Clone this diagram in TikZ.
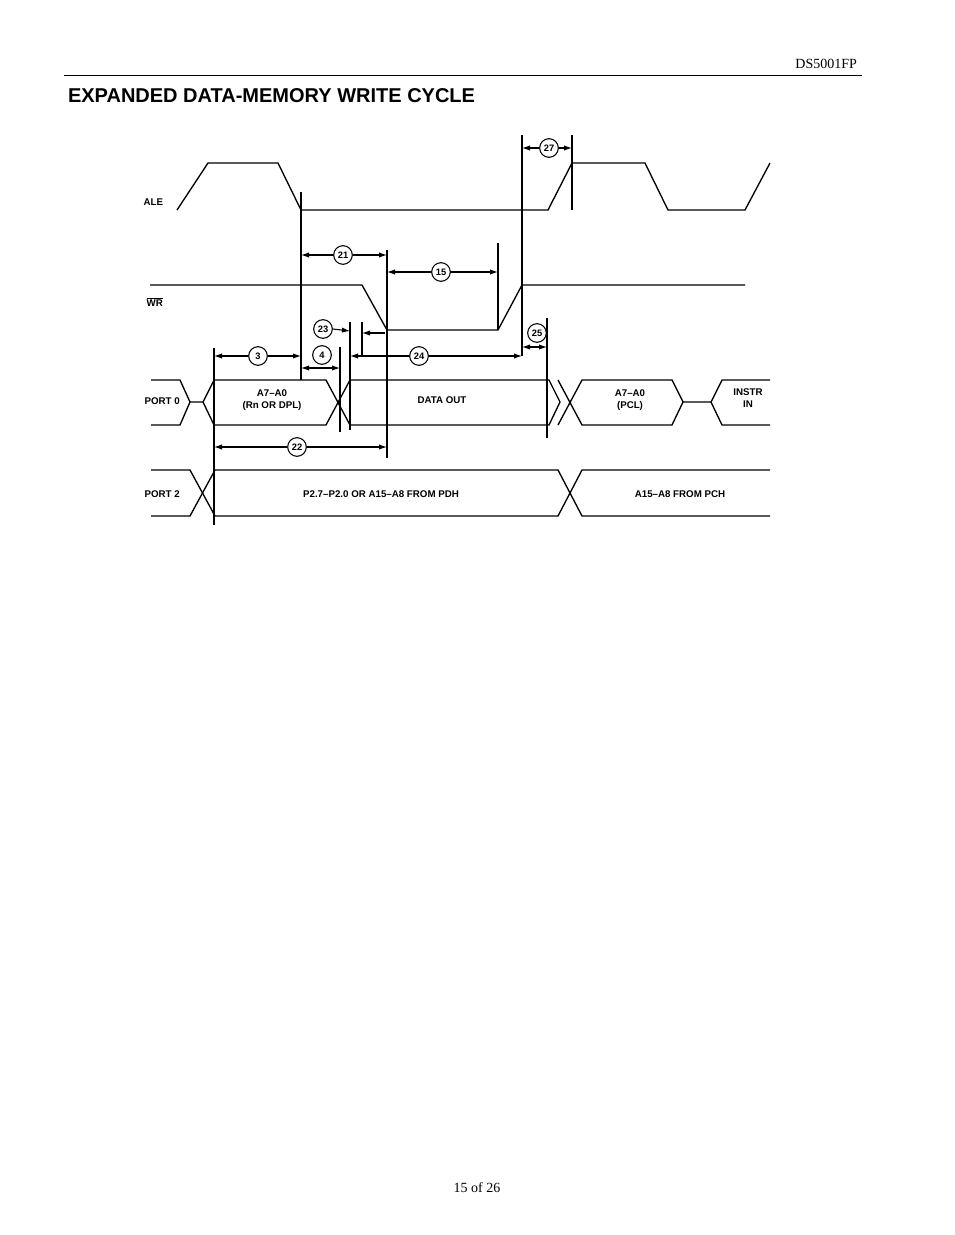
\documentclass[tikz,border=0pt]{standalone}
\usepackage{fontspec}
\setmainfont{Liberation Serif}
\newfontfamily\lab{Liberation Sans}
\usetikzlibrary{arrows.meta}
\begin{document}
\begin{tikzpicture}[x=0.75pt,y=-0.75pt,line width=0.9pt,
  sig/.style={line width=1pt},
  tick/.style={line width=0.9pt},
  num/.style={circle,draw,line width=0.8pt,inner sep=0pt,minimum size=14pt,fill=white,font=\lab\bfseries\fontsize{7}{8}\selectfont},
  txt/.style={font=\lab\bfseries\fontsize{7.3}{8.5}\selectfont,align=center,inner sep=0pt},
  dim/.style={line width=0.8pt,-{Latex[length=6pt,width=4pt]}}]
\useasboundingbox (0,0) rectangle (954,1235);
% header
\node[anchor=east,font=\fontsize{10.5}{12}\selectfont] (hdr) at (862,64) {DS5001FP};
\draw[line width=0.6pt] (64,75) -- (862,75);
\node[anchor=west,font=\lab\bfseries\fontsize{15}{18}\selectfont] (title) at (63,96) {EXPANDED DATA-MEMORY WRITE CYCLE};
\node[font=\fontsize{10.5}{12}\selectfont] (foot) at (477,1188) {15 of 26};
% labels
\node[txt,anchor=west] (ale) at (143,202) {ALE};
\node[txt,anchor=west] (wr) at (146,302) {$\overline{\mbox{WR}}$};
\node[txt,anchor=west] (p0) at (144,401) {PORT 0};
\node[txt,anchor=west] (p2) at (144,494) {PORT 2};
% ALE
\draw[sig] (177,210) -- (208,163) -- (278,163) -- (301,210) -- (548,210) -- (572,163) -- (645,163) -- (668,210) -- (745,210) -- (770,163);
% WR
\draw[sig] (150,285) -- (362,285) -- (387,330) -- (498,330) -- (522,285) -- (745,285);
% PORT 0
\draw[sig] (151,380) -- (180,380) -- (190,402) -- (180,425) -- (151,425);
\draw[sig] (190,402) -- (203,402) -- (214,380) -- (326,380) -- (350,425) -- (549,425) -- (560,402) -- (549,380) -- (350,380) -- (326,425) -- (214,425) -- (203,402);
\draw[sig] (558,380) -- (582,425) -- (672,425) -- (683,402) -- (672,380) -- (582,380) -- (558,425);
\draw[sig] (683,402) -- (711,402) -- (722,380) -- (770,380);
\draw[sig] (711,402) -- (722,425) -- (770,425);
\node[txt] (a70) at (272,400) {A7–A0\\(Rn OR DPL)};
\node[txt] (dout) at (442,400) {DATA OUT};
\node[txt] (pcl) at (630,400) {A7–A0\\(PCL)};
\node[txt] (instr) at (748,398) {INSTR\\IN};
% PORT 2
\draw[sig] (151,470) -- (190,470) -- (215,516) -- (558,516) -- (582,470) -- (770,470);
\draw[sig] (151,516) -- (190,516) -- (215,470) -- (558,470) -- (582,516) -- (770,516);
\node[txt] (pdh) at (381,494) {P2.7–P2.0 OR A15–A8 FROM PDH};
\node[txt] (pch) at (680,494) {A15–A8 FROM PCH};
% vertical timing lines
\draw[tick] (214,348) -- (214,525);
\draw[tick] (301,192) -- (301,380);
\draw[tick] (340,347) -- (340,432);
\draw[tick] (350,322) -- (350,430);
\draw[tick] (362,322) -- (362,355);
\draw[tick] (387,250) -- (387,458);
\draw[tick] (498,243) -- (498,330);
\draw[tick] (522,135) -- (522,356);
\draw[tick] (547,318) -- (547,438);
\draw[tick] (572,135) -- (572,210);
% dimension markers
\node[num] (n27) at (549,148) {27};
\draw[dim] (n27) -- (522,148);
\draw[dim] (n27) -- (572,148);
\node[num] (n21) at (343,255) {21};
\draw[dim] (n21) -- (301,255);
\draw[dim] (n21) -- (387,255);
\node[num] (n15) at (441,272) {15};
\draw[dim] (n15) -- (387,272);
\draw[dim] (n15) -- (498,272);
\node[num] (n23) at (323,329) {23};
\draw[dim] (n23.east) -- (350,331);
\coordinate (c23) at (385,333);
\draw[dim] (c23) -- (362,333);
\node[num] (n25) at (537,333) {25};
\draw[dim] (535,347) -- (522,347);
\draw[dim] (535,347) -- (547,347);
\node[num] (n3) at (258,356) {3};
\draw[dim] (n3) -- (214,356);
\draw[dim] (n3) -- (301,356);
\node[num] (n4) at (322,355) {4};
\draw[dim] (320,368) -- (301,368);
\draw[dim] (320,368) -- (340,368);
\node[num] (n24) at (419,356) {24};
\draw[dim] (n24) -- (350,356);
\draw[dim] (n24) -- (522,356);
\node[num] (n22) at (297,447) {22};
\draw[dim] (n22) -- (214,447);
\draw[dim] (n22) -- (387,447);
\end{tikzpicture}
\end{document}
